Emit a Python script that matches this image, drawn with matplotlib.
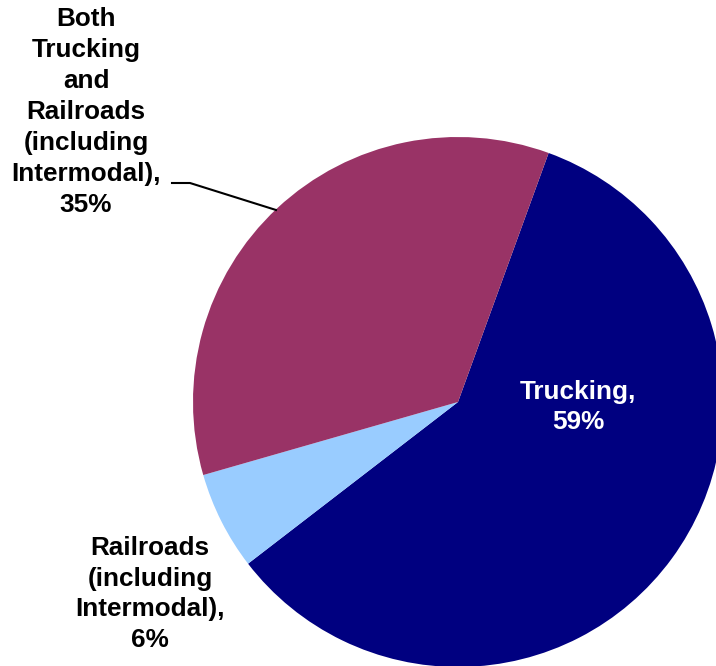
import matplotlib
matplotlib.use("Agg")
import matplotlib.pyplot as plt

categories = ["Trucking", "Railroads (including Intermodal)",
              "Both Trucking and Railroads (including Intermodal)"]
shares = [59, 6, 35]
colors = ["#000080", "#99CCFF", "#993366"]

W, H = 716, 666
cx, cy, r = 458, 402, 265   # pie centre / radius in pixels

fig = plt.figure(figsize=(W / 100, H / 100), dpi=100)
ax = fig.add_axes([0, 0, 1, 1])
ax.axis("off")

ax.pie(shares, colors=colors, startangle=70, counterclock=False,
       radius=1.0, center=(0, 0), frame=False)
ax.set_xlim(-cx / r, (W - cx) / r)
ax.set_ylim(-(H - cy) / r, cy / r)

font = dict(family="Liberation Sans", fontweight="bold", fontsize=18.8,
            ha="center", va="center", linespacing=1.36)

def px(x, y):
    return (x - cx) / r, (cy - y) / r

ax.text(*px(578, 407), f"Trucking,\n{shares[0]}%", color="white", **font)
ax.text(*px(150, 594), f"Railroads\n(including\nIntermodal),\n{shares[1]}%",
        color="black", **font)
ax.text(*px(86, 112),
        f"Both\nTrucking\nand\nRailroads\n(including\nIntermodal),\n{shares[2]}%",
        color="black", **font)

# leader line for the "Both" label
lx = [px(172, 183)[0], px(190, 183)[0], px(276, 210)[0]]
ly = [px(172, 183)[1], px(190, 183)[1], px(276, 210)[1]]
ax.plot(lx, ly, color="black", lw=1.5)

fig.savefig("out.png", dpi=100)
